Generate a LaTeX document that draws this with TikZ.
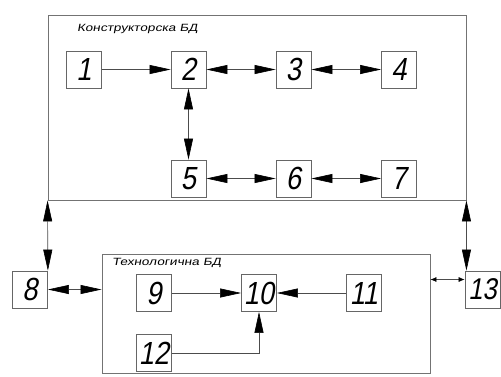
\documentclass[tikz,border=0pt]{standalone}
\usepackage{fontspec}
\newfontfamily\gost[FakeStretch=0.85,FakeSlant=0.18]{Liberation Sans}
\newfontfamily\gosttitle[FakeStretch=1.3,FakeSlant=0.18]{Liberation Sans}
\usetikzlibrary{arrows.meta}
\begin{document}
\begin{tikzpicture}[x=1pt,y=-1pt,
  numbox/.style={draw=black!60, line width=0.8pt, minimum width=35pt, minimum height=37pt, inner sep=0pt, font=\gost\fontsize{32}{32}\selectfont},
  group/.style={draw=black!55, line width=0.9pt, inner sep=0pt},
  grouptitle/.style={anchor=west, inner sep=0pt, font=\gosttitle\fontsize{10.5}{11}\selectfont},
  conn/.style={draw=black!70, line width=0.6pt},
  big/.tip={Triangle[length=21pt,width=9pt,black]},
  small/.tip={Latex[length=6pt,width=5pt,black]}]
\useasboundingbox (0,0) rectangle (501,376);
\fill[white] (0,0) rectangle (501,376);
% groups
\node[group, minimum width=418pt, minimum height=185pt] (kbd) at (257,107.5) {};
\node[group, minimum width=328pt, minimum height=119pt] (tbd) at (266,313.5) {};
\node[grouptitle] (kt) at (77,29) {Конструкторска БД};
\node[grouptitle] (tt) at (112,263) {Технологична БД};
% boxes
\node[numbox] (b1) at (84,69.5) {1};
\node[numbox] (b2) at (188.5,69.5) {2};
\node[numbox] (b3) at (293.5,69.5) {3};
\node[numbox] (b4) at (399,69.5) {4};
\node[numbox] (b5) at (188.5,178.5) {5};
\node[numbox] (b6) at (293.5,178.5) {6};
\node[numbox] (b7) at (399,178.5) {7};
\node[numbox] (b8) at (30,289.5) {8};
\node[numbox] (b9) at (154,293) {9};
\node[numbox] (b10) at (259,293) {10};
\node[numbox] (b11) at (364,293) {11};
\node[numbox] (b12) at (154,353) {12};
\node[numbox, font=\gost\fontsize{30}{30}\selectfont] (b13) at (482.5,289.5) {13};
\coordinate (a13) at ([yshift=10pt]b13.west);
% connectors
\draw[conn, -{big}] (b1) -- (b2);
\draw[conn, {big}-{big}] (b2) -- (b3);
\draw[conn, {big}-{big}] (b3) -- (b4);
\draw[conn, {big}-{big}] (b2) -- (b5);
\draw[conn, {big}-{big}] (b5) -- (b6);
\draw[conn, {big}-{big}] (b6) -- (b7);
\draw[conn, {big}-{big}] (kbd.south west) -- (b8.north east);
\draw[conn, {big}-{big}] (kbd.south east) -- (kbd.south east |- b13.north);
\draw[conn, {big}-{big}] (b8.east) -- (tbd.west |- b8.east);
\draw[conn, {small}-{small}] (tbd.east |- a13) -- (a13);
\draw[conn, -{big}] (b9) -- (b10);
\draw[conn, -{big}] (b11) -- (b10);
\draw[conn, -{big}] (b12.east) -| (b10.south);
\end{tikzpicture}
\end{document}
